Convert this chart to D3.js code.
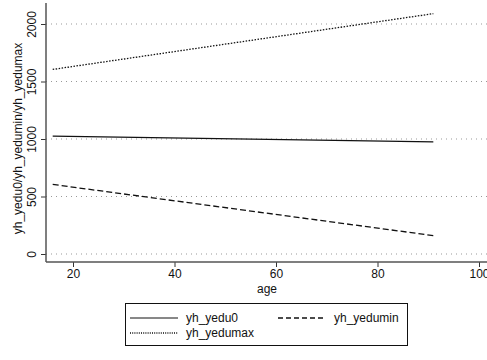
<!DOCTYPE html>
<html>
<head>
<meta charset="utf-8">
<script src="https://cdn.jsdelivr.net/npm/d3@7"></script>
<style>
  body { margin: 0; background: #fff; }
  text { font-family: "Liberation Sans", Arial, sans-serif; fill: #111; }
</style>
</head>
<body>
<svg id="chart" width="487" height="360"></svg>
<script>
// fitted end points of the three predicted lines
const ages = [16, 91];
const yhYedu0 = [1025, 975];
const yhYedumin = [605, 160];
const yhYedumax = [1605, 2090];

const xTicks = [20, 40, 60, 80, 100];
const yTicks = [0, 500, 1000, 1500, 2000];

const seriesNames = ['yh_yedu0', 'yh_yedumin', 'yh_yedumax'];
const dashes = { yh_yedu0: null, yh_yedumin: '6,3', yh_yedumax: '1.5,1.5' };

const svg = d3.select('#chart');

const x = d3.scaleLinear().domain([20, 100]).range([73, 479]);
const y = d3.scaleLinear().domain([0, 2000]).range([254, 24]);

const plotLeft = 46, plotBottom = 262, plotTop = 3, plotRight = 487;

// Grid lines
svg.append('g')
  .selectAll('line')
  .data(yTicks)
  .join('line')
  .attr('x1', plotLeft)
  .attr('x2', plotRight)
  .attr('y1', d => y(d))
  .attr('y2', d => y(d))
  .attr('stroke', '#999')
  .attr('stroke-width', 1)
  .attr('stroke-dasharray', '1,4');

// Series
const seriesData = {
  yh_yedu0: yhYedu0,
  yh_yedumin: yhYedumin,
  yh_yedumax: yhYedumax
};

const line = d3.line()
  .x(d => x(d[0]))
  .y(d => y(d[1]));

seriesNames.forEach(name => {
  const pts = ages.map((a, i) => [a, seriesData[name][i]]);
  svg.append('path')
    .attr('d', line(pts))
    .attr('fill', 'none')
    .attr('stroke', '#111')
    .attr('stroke-width', name === 'yh_yedu0' ? 1.5 : 1.3)
    .attr('stroke-dasharray', dashes[name]);
});

// Axes
const xAxis = svg.append('g')
  .attr('transform', `translate(0,${plotBottom})`)
  .call(d3.axisBottom(x).tickValues(xTicks).tickFormat(d3.format('d')).tickSize(5).tickPadding(2));

xAxis.select('.domain').remove();
xAxis.append('line')
  .attr('x1', plotLeft).attr('x2', plotRight)
  .attr('stroke', '#555').attr('stroke-width', 1.5);
xAxis.selectAll('.tick line').attr('stroke', '#333');
xAxis.selectAll('.tick text')
  .attr('font-size', 12)
  .attr('font-family', '"Liberation Sans", Arial, sans-serif')
  .attr('fill', '#111');

const yAxis = svg.append('g')
  .attr('transform', `translate(${plotLeft},0)`)
  .call(d3.axisLeft(y).tickValues(yTicks).tickFormat(d3.format('d')).tickSize(5).tickPadding(0));

yAxis.select('.domain').remove();
yAxis.append('line')
  .attr('y1', plotTop).attr('y2', plotBottom)
  .attr('stroke', '#555').attr('stroke-width', 1.5);
yAxis.selectAll('.tick line').attr('stroke', '#333');
yAxis.selectAll('.tick text')
  .attr('font-size', 12)
  .attr('font-family', '"Liberation Sans", Arial, sans-serif')
  .attr('fill', '#111')
  .attr('text-anchor', 'middle')
  .attr('dy', 0)
  .attr('transform', 'translate(-10,0) rotate(-90)')
  .attr('x', 0)
  .attr('y', 0);

// Axis titles
svg.append('text')
  .attr('x', 267)
  .attr('y', 293)
  .attr('text-anchor', 'middle')
  .attr('font-size', 12)
  .text('age');

svg.append('text')
  .attr('transform', `translate(22,${(plotTop + plotBottom) / 2 + 6}) rotate(-90)`)
  .attr('text-anchor', 'middle')
  .attr('font-size', 12)
  .text('yh_yedu0/yh_yedumin/yh_yedumax');

// Legend
const legend = svg.append('g');
legend.append('rect')
  .attr('x', 125.5).attr('y', 303.5)
  .attr('width', 282).attr('height', 42)
  .attr('fill', '#fff')
  .attr('stroke', '#111')
  .attr('stroke-width', 1);

const legendItems = [
  { name: 'yh_yedu0', lx: 130, ly: 318 },
  { name: 'yh_yedumin', lx: 278, ly: 318 },
  { name: 'yh_yedumax', lx: 130, ly: 333 }
];

legendItems.forEach(d => {
  legend.append('line')
    .attr('x1', d.lx).attr('x2', d.lx + 48)
    .attr('y1', d.ly).attr('y2', d.ly)
    .attr('stroke', '#111')
    .attr('stroke-width', d.name === 'yh_yedu0' ? 1 : 1.4)
    .attr('stroke-dasharray', dashes[d.name] ? (d.name === 'yh_yedumin' ? '5,3' : '1,1.2') : null);
  legend.append('text')
    .attr('x', d.lx + 56)
    .attr('y', d.ly + 4)
    .attr('font-size', 12)
    .text(d.name);
});
</script>
</body>
</html>
